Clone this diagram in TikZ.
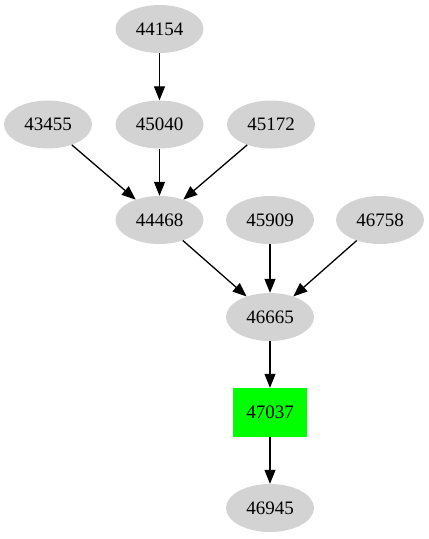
\documentclass[tikz,border=0pt]{standalone}
\usepackage{fontspec}
\setmainfont{Liberation Serif}
\usetikzlibrary{arrows.meta,shapes.geometric}
\definecolor{nodegray}{HTML}{D3D3D3}
\definecolor{hilite}{HTML}{00FF00}
\tikzset{
  job/.style={ellipse,fill=nodegray,minimum width=88pt,minimum height=48pt,
    inner sep=0pt,font=\fontsize{19}{23}\selectfont},
  focus/.style={rectangle,fill=hilite,minimum width=74pt,minimum height=49pt,
    inner sep=0pt,font=\fontsize{19}{23}\selectfont},
  arr/.style={-{Triangle[length=14pt,width=11pt]},line width=1.3pt,draw=black}
}
\begin{document}
\begin{tikzpicture}[x=1pt,y=-1pt]
    \useasboundingbox (0,0) rectangle (429,539);
    \node[job] (n44154) at (159.5,29) {44154};
    \node[job] (n43455) at (48,124.5) {43455};
    \node[job] (n45040) at (159.5,124.5) {45040};
    \node[job] (n45172) at (271,124.5) {45172};
    \node[job] (n44468) at (159.5,220) {44468};
    \node[job] (n45909) at (270,220) {45909};
    \node[job] (n46758) at (380,220) {46758};
    \node[job] (n46665) at (270,317) {46665};
    \node[focus] (n47037) at (270,412.5) {47037};
    \node[job] (n46945) at (270,508) {46945};
    \draw[arr] (n44154) -- (n45040);
    \foreach \src in {n43455,n45040,n45172}
      \draw[arr] (\src) -- (n44468);
    \foreach \src in {n44468,n45909,n46758}
      \draw[arr] (\src) -- (n46665);
    \draw[arr] (n46665) -- (n47037);
    \draw[arr] (n47037) -- (n46945);
  \end{tikzpicture}
\end{document}
